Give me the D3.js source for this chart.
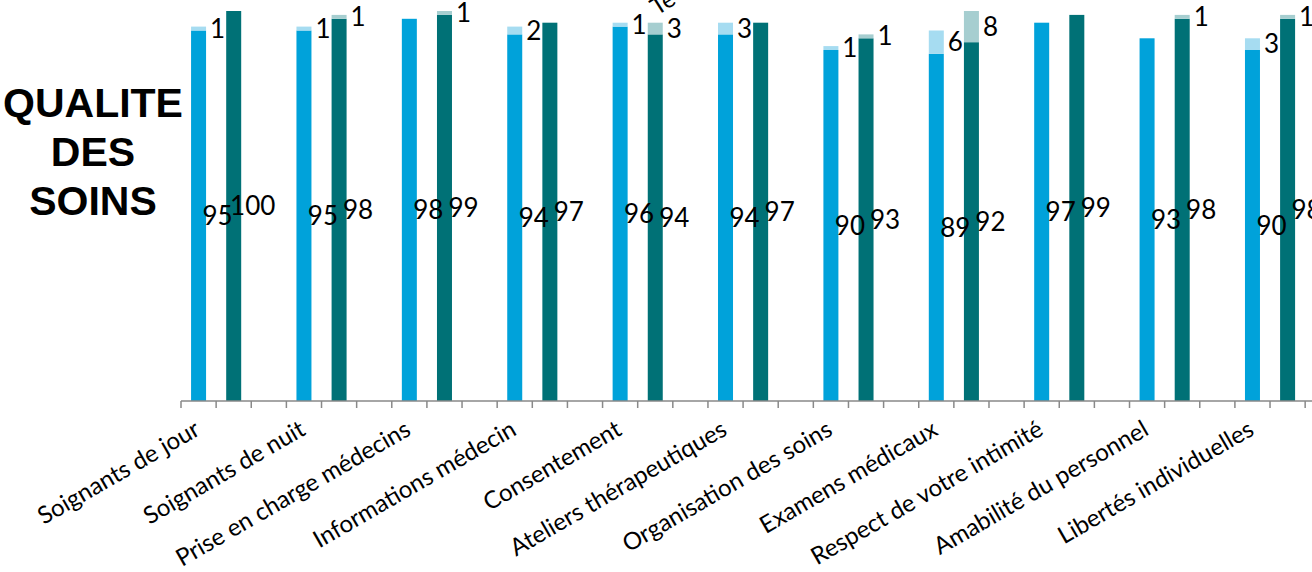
<!DOCTYPE html>
<html>
<head>
<meta charset="utf-8">
<script src="https://cdn.jsdelivr.net/npm/d3@7"></script>
<style>
  body { margin: 0; background: #fff; overflow: hidden; }
</style>
</head>
<body>
<div id="chart"></div>
<script>
const categories = ['Soignants de jour', 'Soignants de nuit', 'Prise en charge médecins',
  'Informations médecin', 'Consentement', 'Ateliers thérapeutiques', 'Organisation des soins',
  'Examens médicaux', 'Respect de votre intimité', 'Amabilité du personnel', 'Libertés individuelles'];

// first bar (blue): main value + small top part
const blueMain = [95, 95, 98, 94, 96, 94, 90, 89, 97, 93, 90];
const blueTop = [1, 1, 0, 2, 1, 3, 1, 6, 0, 0, 3];
// second bar (teal): main value + small top part
const tealMain = [100, 98, 99, 97, 94, 97, 93, 92, 99, 98, 98];
const tealTop = [0, 1, 1, 0, 3, 0, 1, 8, 0, 1, 1];

const width = 1312;
const height = 572;
const axisY = 401;
const slotW = 35.13;
const left = 181;

const blueColor = '#00a2da';
const blueLight = '#a6dcf1';
const tealColor = '#007176';
const tealLight = '#a6ced0';
const axisColor = '#898989';
const labelFont = 'Lato, "Open Sans", sans-serif';

const svg = d3.select('#chart').append('svg').attr('width', width).attr('height', height);

const x = d3.scaleBand()
  .domain(categories)
  .range([left, left + categories.length * 3 * slotW]);

const inner = d3.scaleBand()
  .domain(['blue', 'teal', 'gap'])
  .range([0, x.bandwidth()]);

const y = d3.scaleLinear().domain([0, 100]).range([axisY, 11]);

const barW = 15;

const rows = categories.map((c, i) => ({
  cat: c,
  bars: [
    { key: 'blue', main: blueMain[i], top: blueTop[i], c1: blueColor, c2: blueLight },
    { key: 'teal', main: tealMain[i], top: tealTop[i], c1: tealColor, c2: tealLight }
  ]
}));

const cx = (d, b) => x(d.cat) + inner(b.key) + inner.bandwidth() / 2;

const groups = svg.selectAll('g.cat').data(rows).enter().append('g').attr('class', 'cat');

groups.each(function (d) {
  const g = d3.select(this);
  d.bars.forEach(b => {
    const c = cx(d, b);
    g.append('rect')
      .attr('x', c - barW / 2).attr('width', barW)
      .attr('y', y(b.main)).attr('height', y(0) - y(b.main))
      .attr('fill', b.c1);
    if (b.top > 0) {
      g.append('rect')
        .attr('x', c - barW / 2).attr('width', barW)
        .attr('y', y(b.main + b.top)).attr('height', y(b.main) - y(b.main + b.top))
        .attr('fill', b.c2);
    }
  });
});

// axis line and ticks
svg.append('line')
  .attr('x1', left).attr('x2', width)
  .attr('y1', axisY).attr('y2', axisY)
  .attr('stroke', axisColor).attr('stroke-width', 1.5);

const tickXs = d3.range(categories.length * 3 + 1).map(i => left + i * slotW);
svg.selectAll('line.tick').data(tickXs).enter().append('line')
  .attr('class', 'tick')
  .attr('x1', d => d).attr('x2', d => d)
  .attr('y1', axisY).attr('y2', axisY + 7)
  .attr('stroke', axisColor).attr('stroke-width', 1.5);

// value labels
groups.each(function (d) {
  const g = d3.select(this);
  d.bars.forEach(b => {
    const c = cx(d, b) + 19;
    g.append('text')
      .attr('x', c).attr('y', y(b.main / 2))
      .attr('text-anchor', 'middle').attr('dy', '0.35em')
      .attr('font-family', labelFont).attr('font-size', '26px')
      .attr('fill', '#000')
      .text(b.main);
    if (b.top > 0) {
      g.append('text')
        .attr('x', c).attr('y', y(b.main + b.top / 2))
        .attr('text-anchor', 'middle').attr('dy', '0.35em')
        .attr('font-family', labelFont).attr('font-size', '26px')
        .attr('fill', '#000')
        .text(b.top);
    }
  });
});

// category labels
svg.selectAll('text.cat').data(categories).enter().append('text')
  .attr('class', 'cat')
  .attr('text-anchor', 'end')
  .attr('font-family', labelFont).attr('font-size', '24px')
  .attr('fill', '#000')
  .attr('transform', d => `translate(${x(d) + inner('blue') + inner.bandwidth() / 2 + 3}, 434) rotate(-30)`)
  .text(d => d);

// clipped label at the top edge
svg.append('text')
  .attr('font-family', labelFont).attr('font-size', '24px')
  .attr('transform', 'translate(657, 16) rotate(-32)')
  .text('Te');

// title
const title = svg.append('text')
  .attr('text-anchor', 'middle')
  .attr('font-family', '"Liberation Sans", Arial, sans-serif')
  .attr('font-weight', 'bold')
  .attr('font-size', '41px')
  .attr('fill', '#000');
['QUALITE', 'DES', 'SOINS'].forEach((t, i) => {
  title.append('tspan').attr('x', 93).attr('y', 117 + i * 49).text(t);
});
</script>
</body>
</html>
